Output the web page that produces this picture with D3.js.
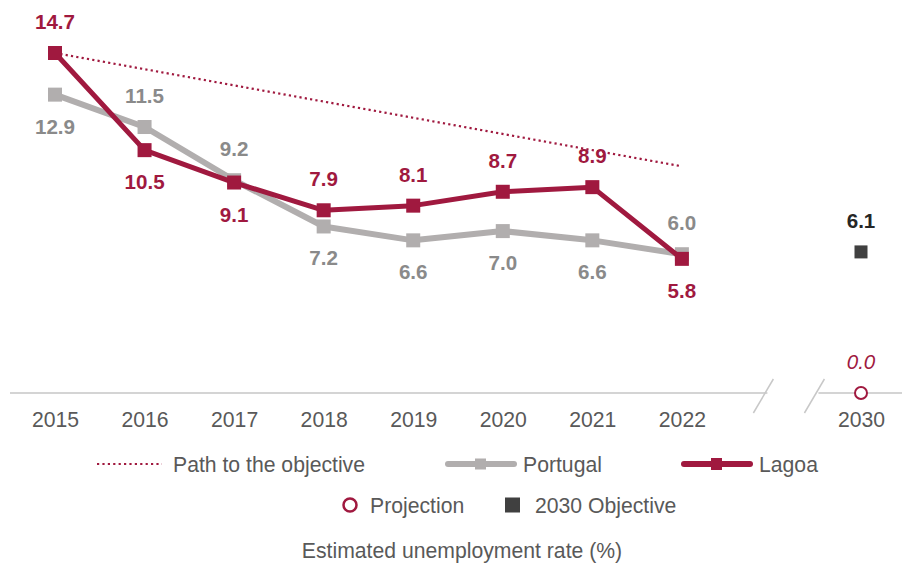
<!DOCTYPE html>
<html><head><meta charset="utf-8">
<script src="https://cdn.jsdelivr.net/npm/d3@7/dist/d3.min.js"></script>
<style>body{margin:0;background:#fff}svg{display:block;font-family:"Liberation Sans",Arial,sans-serif}</style>
</head><body>
<svg id="c" width="902" height="567"></svg>
<script>
const years = ["2015","2016","2017","2018","2019","2020","2021","2022"];
const slots = ["2015","2016","2017","2018","2019","2020","2021","2022","gap","2030"];
const lagoa = [14.7,10.5,9.1,7.9,8.1,8.7,8.9,5.8];
const portugal = [12.9,11.5,9.2,7.2,6.6,7.0,6.6,6.0];
const pathYears = ["2015","2022"];
const pathValues = [14.7,9.8];
const objectiveYear = "2030", objectiveValue = 6.1;
const projectionYear = "2030", projectionValue = 0.0;
const legendRow1 = ["Path to the objective","Portugal","Lagoa"];
const legendRow2 = ["Projection","2030 Objective"];
const chartTitle = "Estimated unemployment rate (%)";

const RED = "#A0193F", GREY = "#B1AEAE", GREYTXT = "#8A8A8A", TXT = "#595959", DARK = "#404040";
const FS = 21.2, FSB = 20.6;
const svg = d3.select("#c");
const x = d3.scalePoint().domain(slots).range([55, 861]);
const y = d3.scaleLinear().domain([0, 14.7]).range([393, 53]);

// axis with break
const x22 = x("2022"), x30 = x("2030");
const b1 = x22 + (x30 - x22) * 0.455, b2 = x22 + (x30 - x22) * 0.74;
const axisG = svg.append("g");
axisG.append("line").attr("x1", 10).attr("x2", b1 + 4).attr("y1", y(0)).attr("y2", y(0)).attr("stroke", "#D4D4D4").attr("stroke-width", 2);
axisG.append("line").attr("x1", b2 + 4).attr("x2", 902).attr("y1", y(0)).attr("y2", y(0)).attr("stroke", "#D4D4D4").attr("stroke-width", 2);
[b1, b2].forEach(b => axisG.append("line").attr("x1", b - 10).attr("y1", y(0) + 20).attr("x2", b + 10).attr("y2", y(0) - 14).attr("stroke", "#C8C8C8").attr("stroke-width", 1.5));
const xAxis = d3.axisBottom(x).tickValues(years.concat(["2030"])).tickSize(0).tickPadding(0);
const ax = svg.append("g").attr("transform", `translate(0,${y(0)})`).call(xAxis);
ax.select(".domain").remove();
ax.selectAll("text").attr("dy", null).attr("y", 34).attr("font-size", FS).attr("fill", TXT).attr("font-family", '"Liberation Sans",Arial,sans-serif');

// path to objective
const pathLine = d3.line().x(d => x(d[0])).y(d => y(d[1]));
svg.append("path").datum(pathYears.map((p, i) => [p, pathValues[i]]))
  .attr("d", pathLine).attr("fill", "none").attr("stroke", RED).attr("stroke-width", 2.2).attr("stroke-dasharray", "2.2 3.2");

const line = d3.line().x(d => x(d[0])).y(d => y(d[1]));
function drawSeries(vals, color, width, size) {
  const data = years.map((yr, i) => [yr, vals[i]]);
  svg.append("path").datum(data).attr("d", line).attr("fill", "none").attr("stroke", color).attr("stroke-width", width).attr("stroke-linejoin", "round");
  svg.append("g").selectAll("rect").data(data).join("rect")
    .attr("x", d => x(d[0]) - size / 2).attr("y", d => y(d[1]) - size / 2).attr("width", size).attr("height", size).attr("fill", color);
}
drawSeries(portugal, GREY, 6, 14);
drawSeries(lagoa, RED, 5, 14);

// labels
function labels(vals, other, color) {
  svg.append("g").selectAll("text").data(years.map((yr, i) => [yr, vals[i], other[i]])).join("text")
    .attr("x", d => x(d[0])).attr("y", d => d[1] >= d[2] ? y(d[1]) - 24 : y(d[1]) + 39)
    .attr("text-anchor", "middle").attr("font-size", FSB).attr("font-weight", "bold").attr("fill", color)
    .text(d => d3.format(".1f")(d[1]));
}
labels(lagoa, portugal, RED);
labels(portugal, lagoa, GREYTXT);

// objective
svg.append("rect").attr("x", x(objectiveYear) - 6.5).attr("y", y(objectiveValue) - 6.5).attr("width", 13).attr("height", 13).attr("fill", DARK);
svg.append("text").attr("x", x(objectiveYear)).attr("y", y(objectiveValue) - 24).attr("text-anchor", "middle").attr("font-size", FSB).attr("font-weight", "bold").attr("fill", "#262626").text(d3.format(".1f")(objectiveValue));
// projection
svg.append("circle").attr("cx", x(projectionYear)).attr("cy", y(projectionValue)).attr("r", 6).attr("fill", "#fff").attr("stroke", RED).attr("stroke-width", 2);
svg.append("text").attr("x", x(projectionYear)).attr("y", y(projectionValue) - 24).attr("text-anchor", "middle").attr("font-size", FSB).attr("font-style", "italic").attr("fill", RED).text(d3.format(".1f")(projectionValue));

// legend
const lg = svg.append("g").attr("font-size", FS).attr("fill", TXT);
const r1 = 464;
lg.append("line").attr("x1", 97).attr("x2", 162).attr("y1", r1).attr("y2", r1).attr("stroke", RED).attr("stroke-width", 2.2).attr("stroke-dasharray", "2.2 3.2");
lg.append("text").attr("x", 173).attr("y", r1 + 7.5).text(legendRow1[0]);
lg.append("line").attr("x1", 448).attr("x2", 514).attr("y1", r1).attr("y2", r1).attr("stroke", GREY).attr("stroke-width", 6).attr("stroke-linecap", "round");
lg.append("rect").attr("x", 475).attr("y", r1 - 5.5).attr("width", 11).attr("height", 11).attr("fill", GREY);
lg.append("text").attr("x", 523).attr("y", r1 + 7.5).text(legendRow1[1]);
lg.append("line").attr("x1", 684).attr("x2", 750).attr("y1", r1).attr("y2", r1).attr("stroke", RED).attr("stroke-width", 6).attr("stroke-linecap", "round");
lg.append("rect").attr("x", 711).attr("y", r1 - 6).attr("width", 11).attr("height", 12).attr("fill", RED);
lg.append("text").attr("x", 759).attr("y", r1 + 7.5).text(legendRow1[2]);
const r2 = 505;
lg.append("circle").attr("cx", 350).attr("cy", r2).attr("r", 6.5).attr("fill", "#fff").attr("stroke", RED).attr("stroke-width", 2.5);
lg.append("text").attr("x", 370).attr("y", r2 + 7.5).text(legendRow2[0]);
lg.append("rect").attr("x", 505).attr("y", r2 - 7.5).attr("width", 15).attr("height", 15).attr("fill", DARK);
lg.append("text").attr("x", 535).attr("y", r2 + 7.5).text(legendRow2[1]);
svg.append("text").attr("x", 462).attr("y", 558).attr("text-anchor", "middle").attr("font-size", FS).attr("fill", TXT).text(chartTitle);
</script>
</body></html>
